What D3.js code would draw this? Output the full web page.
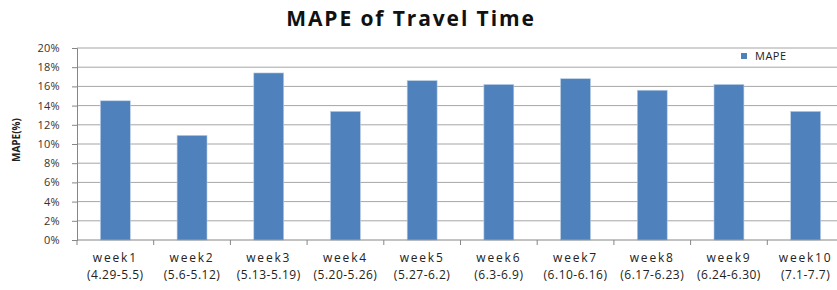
<!DOCTYPE html>
<html>
<head>
<meta charset="utf-8">
<script src="https://cdn.jsdelivr.net/npm/d3@7"></script>
<style>
  body { margin: 0; background: #fff; }
  text { font-family: "Open Sans", "Liberation Sans", sans-serif; }
</style>
</head>
<body>
<script>
// data
var weeks = ["week1", "week2", "week3", "week4", "week5", "week6", "week7", "week8", "week9", "week10"];
var ranges = ["(4.29-5.5)", "(5.6-5.12)", "(5.13-5.19)", "(5.20-5.26)", "(5.27-6.2)", "(6.3-6.9)", "(6.10-6.16)", "(6.17-6.23)", "(6.24-6.30)", "(7.1-7.7)"];
var mape = [14.5, 10.9, 17.4, 13.4, 16.6, 16.2, 16.8, 15.6, 16.2, 13.4];
var yTicks = [0, 2, 4, 6, 8, 10, 12, 14, 16, 18, 20];

var width = 837, height = 290;

var svg = d3.select("body")
            .append("svg")
            .attr("width", width)
            .attr("height", height);

// band range runs past the right edge, as in the original picture
var x = d3.scaleBand()
          .domain(weeks)
          .range([77, 844])
          .paddingInner(0.61)
          .paddingOuter(0.305);

var y = d3.scaleLinear()
          .domain([0, 20])
          .range([240, 48]);

// gridlines
svg.selectAll("line.grid")
   .data(yTicks.slice(1))
   .enter()
   .append("line")
   .attr("class", "grid")
   .attr("x1", 77)
   .attr("x2", width)
   .attr("y1", function(d) { return y(d); })
   .attr("y2", function(d) { return y(d); })
   .style("stroke", "#a6a6a6")
   .style("stroke-width", 1);

// bars
svg.selectAll("rect.bar")
   .data(mape)
   .enter()
   .append("rect")
   .attr("class", "bar")
   .attr("x", function(d, i) { return x(weeks[i]); })
   .attr("y", function(d) { return y(d); })
   .attr("width", x.bandwidth())
   .attr("height", function(d) { return y(0) - y(d); })
   .style("fill", "#4f81bd")
   .style("stroke", "#b9cde5")
   .style("stroke-width", 0.6);

// y axis
var yAxis = d3.axisLeft(y)
              .tickValues(yTicks)
              .tickFormat(function(d) { return d + "%"; })
              .tickSize(5)
              .tickPadding(12);

var gy = svg.append("g")
            .attr("transform", "translate(77,0)")
            .call(yAxis);
gy.select(".domain").style("stroke", "#868686");
gy.selectAll(".tick line").style("stroke", "#868686");
gy.selectAll(".tick text")
  .style("font-size", "11px")
  .style("letter-spacing", "0.3px")
  .style("fill", "#333");

// x axis: ticks at band boundaries
var xAxis = d3.axisBottom(x).tickSize(0).tickFormat("");
var gx = svg.append("g")
            .attr("transform", "translate(0,240)")
            .call(xAxis);
gx.select(".domain").attr("d", "M77,0H" + width).style("stroke", "#868686");

svg.selectAll("line.xtick")
   .data(weeks)
   .enter()
   .append("line")
   .attr("class", "xtick")
   .attr("x1", function(d) { return x(d) - x.step() * x.paddingInner() / 2; })
   .attr("x2", function(d) { return x(d) - x.step() * x.paddingInner() / 2; })
   .attr("y1", 240)
   .attr("y2", 245)
   .style("stroke", "#868686");

// category labels, two lines each
var labels = svg.selectAll("text.xlab")
                .data(weeks)
                .enter()
                .append("text")
                .attr("class", "xlab")
                .attr("text-anchor", "middle")
                .style("font-size", "12px")
                .style("fill", "#222");
labels.append("tspan")
      .attr("x", function(d) { return x(d) + x.bandwidth() / 2; })
      .attr("y", 262)
      .style("letter-spacing", "1.8px")
      .text(function(d) { return d; });
labels.append("tspan")
      .attr("x", function(d) { return x(d) + x.bandwidth() / 2; })
      .attr("y", 279)
      .style("letter-spacing", "0.5px")
      .text(function(d, i) { return ranges[i]; });

// title
svg.append("text")
   .attr("x", 411)
   .attr("y", 26)
   .attr("text-anchor", "middle")
   .style("font-size", "21px")
   .style("font-weight", "bold")
   .style("letter-spacing", "1.9px")
   .style("fill", "#111")
   .text("MAPE of Travel Time");

// y axis title
svg.append("text")
   .attr("transform", "translate(20,140) rotate(-90)")
   .attr("text-anchor", "middle")
   .style("font-size", "10px")
   .style("font-weight", "bold")
   .style("fill", "#222")
   .text("MAPE(%)");

// legend
svg.append("rect")
   .attr("x", 741)
   .attr("y", 53)
   .attr("width", 6)
   .attr("height", 6)
   .style("fill", "#4f81bd");
svg.append("text")
   .attr("x", 755)
   .attr("y", 60)
   .style("font-size", "11px")
   .style("letter-spacing", "0.5px")
   .style("fill", "#222")
   .text("MAPE");
</script>
</body>
</html>
